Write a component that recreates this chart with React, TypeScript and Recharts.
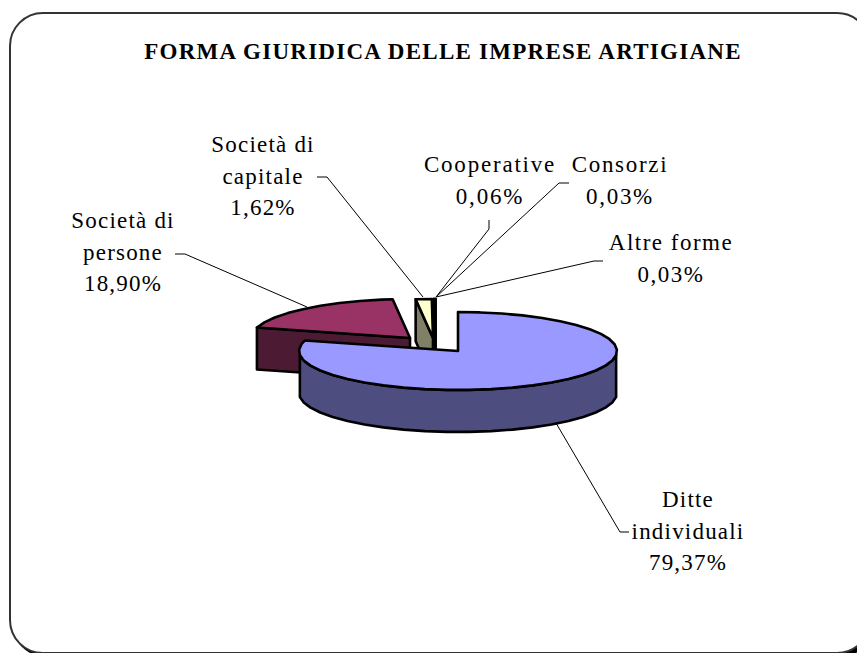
import { PieChart, Pie } from "recharts";

// order starts at "Società di persone" so the big front slice paints last
const categories = ["Società di persone", "Società di capitale", "Cooperative", "Consorzi", "Altre forme", "Ditte individuali"];
const values = [18.9, 1.62, 0.06, 0.03, 0.03, 79.37];
const labelLines = [
  ["Società di", "persone"],
  ["Società di", "capitale"],
  ["Cooperative"],
  ["Consorzi"],
  ["Altre forme"],
  ["Ditte", "individuali"],
];
const title = "FORMA GIURIDICA DELLE IMPRESE ARTIGIANE";

const topColors = ["#993366", "#FFFFCC", "#CCFFFF", "#660066", "#FF8080", "#9999FF"];
const wallColors = ["#4D1A33", "#808066", "#668080", "#330033", "#804040", "#4D4D80"];

// slice displacement (exploded pie), in pixels
const explode = [
  [-48, -13],
  [-25, -13],
  [-23.5, -13],
  [-23, -13],
  [-22.5, -13],
  [0, 0],
];

// label centre x, first baseline y, tracking and leader polyline for each slice
const labelLayout = [
  { x: 123, y: 228, spacing: 1.2, leader: "175,254 185,254 307,307" },
  { x: 263, y: 152, spacing: 1.2, leader: "317,177 327,177 423,297" },
  { x: 490, y: 172, spacing: 1.8, leader: "489,220 489,229 436,297" },
  { x: 620, y: 172, spacing: 1.7, leader: "569,183 559,183 436,297" },
  { x: 671, y: 250, spacing: 1.5, leader: "603,261 594,261 436,297" },
  { x: 688, y: 507, spacing: 1.2, leader: "629,532 620,532 556,423" },
];

const PIE_SQUASH = 0.245;
const DEPTH = 42;
const FONT = '"Liberation Serif", serif';

const total = values.reduce((a, b) => a + b, 0);
const START = 90 - (360 * values[5]) / total;

const data = categories.map((name, i) => ({ name, value: values[i] }));

const rad = (a: number) => (a * Math.PI) / 180;

function Slice3D(props: any) {
  const { cx, cy, outerRadius, startAngle, endAngle, name } = props;
  const i = categories.indexOf(name);
  const ox = cx + explode[i][0];
  const oy = cy + explode[i][1];
  const rx = outerRadius;
  const ry = outerRadius * PIE_SQUASH;

  const pt = (a: number): [number, number] => [ox + rx * Math.cos(rad(a)), oy - ry * Math.sin(rad(a))];
  const str = (pts: [number, number][]) => pts.map((p) => p.join(",")).join(" ");
  const down = (p: [number, number]): [number, number] => [p[0], p[1] + DEPTH];

  // angle run from start to end, coarse steps like the old office renderer
  const angles: number[] = [];
  for (let a = startAngle; a > endAngle; a -= 8) angles.push(a);
  angles.push(endAngle);

  const arc = angles.map(pt);
  const apex: [number, number] = [ox, oy];
  const front = angles.filter((a) => Math.sin(rad(a)) <= 0).map(pt);

  const common = { stroke: "#000", strokeWidth: 2.6, strokeLinejoin: "round" as const };
  const face = (a: number) => {
    const p = pt(a);
    return <polygon points={str([apex, p, down(p), down(apex)])} fill={wallColors[i]} {...common} />;
  };

  return (
    <g>
      {Math.cos(rad(startAngle)) < 0 && face(startAngle)}
      {Math.cos(rad(endAngle)) > 0 && face(endAngle)}
      {front.length > 1 && (
        <polygon points={str([...front, ...front.map(down).reverse()])} fill={wallColors[i]} {...common} />
      )}
      <polygon points={str([apex, ...arc])} fill={topColors[i]} {...common} />
    </g>
  );
}

function renderLabel(props: any) {
  const i = categories.indexOf(props.name);
  const pos = labelLayout[i];
  const lines = [...labelLines[i], values[i].toFixed(2).replace(".", ",") + "%"];
  return (
    <text
      x={pos.x}
      y={pos.y}
      textAnchor="middle"
      fontFamily={FONT}
      fontSize={23}
      letterSpacing={pos.spacing}
      fill="#000"
    >
      {lines.map((line, k) => (
        <tspan key={k} x={pos.x} y={pos.y + k * 31.7}>
          {line}
        </tspan>
      ))}
    </text>
  );
}

function renderLeader(props: any) {
  const i = categories.indexOf(props.name);
  return <polyline points={labelLayout[i].leader} fill="none" stroke="#000" strokeWidth={1} />;
}

export default function App() {
  return (
    <div style={{ position: "absolute", left: 0, top: 0, width: 857, height: 653, overflow: "hidden", background: "#fff" }}>
      <div
        style={{
          position: "absolute",
          left: 9,
          top: 12,
          width: 862,
          height: 642,
          boxSizing: "border-box",
          border: "2px solid #333",
          borderRadius: 34,
          background: "#fff",
          boxShadow: "3px 3px 0 #000",
        }}
      />
      <div style={{ position: "absolute", left: 0, top: 0 }}>
        <PieChart width={857} height={653} margin={{ top: 0, right: 0, bottom: 0, left: 0 }}>
          <text
            x={443}
            y={59}
            textAnchor="middle"
            fontFamily={FONT}
            fontWeight="bold"
            fontSize={23}
            letterSpacing={1.25}
            fill="#000"
          >
            {title}
          </text>
          <Pie
            data={data}
            dataKey="value"
            nameKey="name"
            cx={458}
            cy={351}
            outerRadius={159}
            startAngle={START}
            endAngle={START - 360}
            shape={Slice3D}
            inactiveShape={Slice3D}
            label={renderLabel}
            labelLine={renderLeader}
            stroke="none"
            isAnimationActive={false}
          />
        </PieChart>
      </div>
    </div>
  );
}
